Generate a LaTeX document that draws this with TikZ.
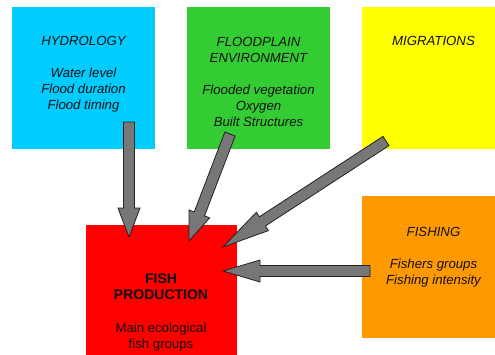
\documentclass[tikz,border=0pt]{standalone}
\usepackage{fontspec}
\setmainfont{Liberation Sans}
\usetikzlibrary{calc}
\definecolor{hydc}{HTML}{00CCFF}
\definecolor{floc}{HTML}{33CC33}
\definecolor{migc}{HTML}{FFFF00}
\definecolor{fisc}{HTML}{FF9900}
\definecolor{prodc}{HTML}{FF0000}
\definecolor{arrfill}{HTML}{777777}
\definecolor{arrline}{HTML}{222222}
\definecolor{txtc}{HTML}{111111}
\tikzset{
  box/.style={rectangle, inner sep=0pt, anchor=north west, minimum width=143pt, minimum height=142pt},
  lab/.style={align=center, text=txtc, inner sep=0pt, font=\fontsize{13.2}{16}\selectfont\itshape},
  plab/.style={align=center, text=txtc, inner sep=0pt, font=\fontsize{13.2}{16}\selectfont},
  fatarr/.style={fill=arrfill, draw=arrline, line width=0.8pt, line join=miter},
}
\newcommand\fatarrow[3]{%
  \coordinate (hb) at ($(#2)!#3!(#1)$);
  \filldraw[fatarr] ($(#1)!5.5pt!90:(#2)$) -- ($(hb)!5.5pt!90:(#2)$) -- ($(hb)!11pt!90:(#2)$)
    -- (#2) -- ($(hb)!11pt!-90:(#2)$) -- ($(hb)!5.5pt!-90:(#2)$) -- ($(#1)!5.5pt!-90:(#2)$) -- cycle;
}
\begin{document}
\begin{tikzpicture}[x=1pt, y=-1pt]
  \clip (0,0) rectangle (495,354);
  \fill[white] (0,0) rectangle (495,354);
  % boxes
  \node[box, fill=hydc] (hyd) at (12,7) {};
  \node[box, fill=floc] (flo) at (187,7) {};
  \node[box, fill=migc] (mig) at (362,7) {};
  \node[box, fill=fisc] (fis) at (362,196) {};
  \node[box, fill=prodc, minimum width=151pt, minimum height=130pt] (prod) at (86,225) {};
  % texts
  \node[lab] (hydt) at (83.5,74) {HYDROLOGY\\[16pt]Water level\\Flood duration\\Flood timing};
  \node[lab] (flot) at (258.5,82) {FLOODPLAIN\\ENVIRONMENT\\[16pt]Flooded vegetation\\Oxygen\\Built Structures};
  \node[lab] (migt) at (433.5,41) {MIGRATIONS};
  \node[lab] (fist) at (433.5,257) {FISHING\\[16pt]Fishers groups\\Fishing intensity};
  \node[plab] (prodt) at (161,312) {{\fontsize{14}{17}\selectfont\bfseries FISH}\\{\fontsize{14}{17}\selectfont\bfseries PRODUCTION}\\[17pt]Main ecological\\fish groups};
  % arrow anchors
  \coordinate (a1s) at (129,122);
  \coordinate (a1e) at (129,237);
  \coordinate (a2s) at (230,134);
  \coordinate (a2e) at (189,241);
  \coordinate (a3s) at (386,141);
  \coordinate (a3e) at (223,247);
  \coordinate (a4s) at (370,271);
  \coordinate (a4e) at (223,271);
  \fatarrow{a1s}{a1e}{29pt}
  \fatarrow{a2s}{a2e}{29pt}
  \fatarrow{a3s}{a3e}{47pt}
  \fatarrow{a4s}{a4e}{37pt}
\end{tikzpicture}
\end{document}
